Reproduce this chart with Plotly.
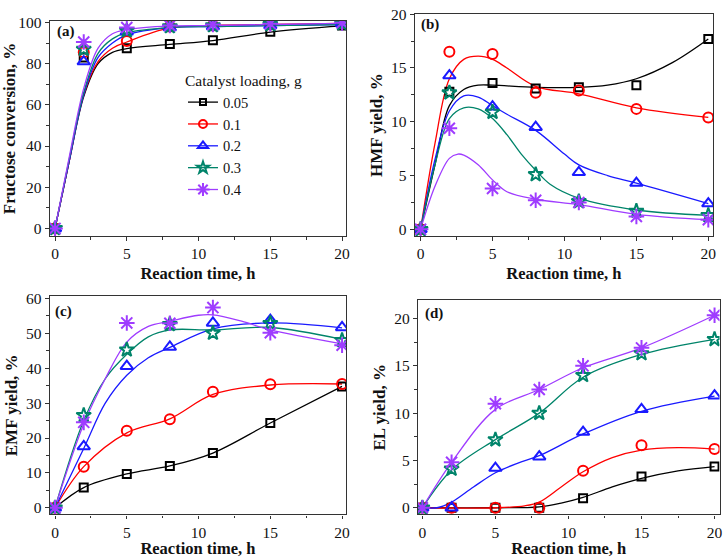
import plotly.graph_objects as go

# ---------------- data ----------------
time_h = [0, 2, 5, 8, 11, 15, 20]
loadings = ["0.05", "0.1", "0.2", "0.3", "0.4"]

# (a) Fructose conversion, %
conv_005 = [0, 83.0, 87.5, 89.5, 91.3, 95.5, 98.5]
conv_01 = [0, 85.5, 91.0, 98.0, 98.5, 99.0, 99.5]
conv_02 = [0, 81.0, 95.5, 97.5, 98.0, 98.5, 99.5]
conv_03 = [0, 87.0, 96.0, 98.0, 98.5, 99.0, 99.5]
conv_04 = [0, 90.5, 97.5, 98.5, 99.0, 99.3, 99.8]

# (b) HMF yield, %
hmf_005 = [0, 12.8, 13.6, 13.1, 13.2, 13.4, 17.7]
hmf_01 = [0, 16.5, 16.3, 12.7, 12.9, 11.2, 10.4]
hmf_02 = [0, 14.3, 11.4, 9.5, 5.3, 4.3, 2.4]
hmf_03 = [0, 12.7, 10.9, 5.1, 2.6, 1.7, 1.3]
hmf_04 = [0, 9.4, 3.8, 2.7, 2.5, 1.2, 0.9]

# (c) EMF yield, %
emf_005 = [0, 5.8, 9.7, 12.0, 15.7, 24.3, 34.8]
emf_01 = [0, 11.8, 22.1, 25.4, 33.3, 35.4, 35.5]
emf_02 = [0, 17.6, 40.6, 46.1, 53.0, 53.8, 51.7]
emf_03 = [0, 26.5, 45.3, 52.6, 50.1, 52.9, 48.0]
emf_04 = [0, 24.5, 53.0, 52.9, 57.4, 50.2, 46.6]

# (d) EL yield, %
el_005 = [0, 0, 0, 0, 1.0, 3.3, 4.35]
el_01 = [0, 0, 0, 0, 3.9, 6.6, 6.2]
el_02 = [0, 0, 4.2, 5.4, 8.0, 10.4, 11.85]
el_03 = [0, 4.1, 7.2, 10.0, 14.0, 16.3, 17.8]
el_04 = [0, 4.8, 11.0, 12.5, 15.0, 16.9, 20.35]

# fitted (smoothed) curves
fit_conv_t = [0, 1, 2, 3, 4, 5, 8, 11, 15, 20]
fit_conv_005 = [0, 33, 64, 80, 85.5, 87.3, 89.3, 91.2, 95.3, 98.3]
fit_conv_01 = [0, 33, 65, 81, 87.5, 90.5, 97.3, 98.5, 99, 99.5]
fit_conv_02 = [0, 33, 65, 83, 90, 94, 97.5, 98, 98.5, 99]
fit_conv_03 = [0, 34, 66, 85, 92, 95, 97.5, 98, 98.5, 99]
fit_conv_04 = [0, 35, 68, 87.5, 94.5, 96.5, 98.3, 98.5, 99, 99.5]

fit_hmf_005_t = [0, 1, 2, 3, 4, 5, 8, 11, 13, 15, 17.5, 20]
fit_hmf_005 = [0, 6, 11.5, 13.0, 13.4, 13.4, 13.2, 13.2, 13.4, 14.0, 15.5, 17.7]
fit_hmf_01_t = [0, 1, 2, 3, 4, 5, 6, 8, 11, 15, 20]
fit_hmf_01 = [0, 8, 14, 15.8, 16.1, 15.8, 15.0, 13.3, 12.6, 11.3, 10.4]
fit_hmf_02_t = [0, 1, 2, 3, 4, 5, 6, 8, 10, 11, 13, 15, 20]
fit_hmf_02 = [0, 6.5, 11, 12.4, 12.3, 11.5, 10.7, 9.2, 7.0, 6.0, 5.0, 4.3, 2.4]
fit_hmf_03_t = [0, 1, 2, 3, 4, 5, 6, 7, 8, 9, 11, 15, 20]
fit_hmf_03 = [0, 6, 10.3, 11.3, 11.2, 10.3, 8.8, 7.0, 5.5, 4.2, 2.9, 1.8, 1.3]
fit_hmf_04_t = [0, 1, 2, 2.6, 3, 4, 5, 6, 8, 11, 15, 20]
fit_hmf_04 = [0, 4, 6.6, 7.0, 6.9, 6.0, 4.6, 3.5, 2.8, 2.3, 1.4, 0.9]

fit_emf_005_t = [0, 2, 5, 8, 11, 15, 20]
fit_emf_005 = [0, 5.8, 9.7, 12.0, 15.7, 24.3, 34.8]
fit_emf_01_t = [0, 2, 5, 8, 11, 15, 20]
fit_emf_01 = [0, 11.8, 21.5, 25.5, 32.5, 35.2, 35.5]
fit_emf_02_t = [0, 2, 3.5, 5, 6.5, 8, 11, 15, 20]
fit_emf_02 = [0, 17, 30, 38, 43, 46, 51.3, 53, 51.6]
fit_emf_03_t = [0, 2, 3.5, 5, 6.5, 8, 11, 15, 20]
fit_emf_03 = [0, 25, 37, 44, 49, 51, 51, 51.7, 48.3]
fit_emf_04_t = [0, 2, 3.5, 5, 6.5, 8, 10, 11, 13, 15, 20]
fit_emf_04 = [0, 24, 37, 47.5, 52, 53.5, 55.2, 55.3, 53.5, 51, 47]

fit_el_005_t = [0, 5, 8, 9.5, 11, 13, 15, 17.5, 20]
fit_el_005 = [0, 0, 0.1, 0.5, 1.1, 2.2, 3.1, 3.9, 4.35]
fit_el_01_t = [0, 5, 7, 8, 9.5, 11, 13, 15, 17.5, 20]
fit_el_01 = [0, 0, 0.2, 0.6, 2.2, 3.8, 5.3, 6.1, 6.35, 6.2]
fit_el_02_t = [0, 1, 2, 3.5, 5, 6.5, 8, 11, 15, 20]
fit_el_02 = [0, 0, 0.6, 2.2, 3.7, 4.7, 5.5, 7.8, 10.2, 11.8]
fit_el_03_t = [0, 2, 5, 8, 11, 15, 20]
fit_el_03 = [0, 4.0, 7.2, 10.0, 13.8, 16.2, 17.8]
fit_el_04_t = [0, 2, 5, 8, 11, 15, 20]
fit_el_04 = [0, 4.8, 10.4, 12.5, 14.8, 16.9, 20.35]

# ---------------- styles ----------------
colors = ["#000000", "#ff0000", "#1a1aff", "#00846a", "#9f3cff"]
symbols = ["square-open", "circle-open", "triangle-up-open", "star-open", "asterisk-open"]
msizes = [8, 10, 11, 11, 13]
FONT = "Liberation Serif"

panels = [
    ("x", "y", [conv_005, conv_01, conv_02, conv_03, conv_04],
     [(fit_conv_t, fit_conv_005), (fit_conv_t, fit_conv_01), (fit_conv_t, fit_conv_02),
      (fit_conv_t, fit_conv_03), (fit_conv_t, fit_conv_04)]),
    ("x2", "y2", [hmf_005, hmf_01, hmf_02, hmf_03, hmf_04],
     [(fit_hmf_005_t, fit_hmf_005), (fit_hmf_01_t, fit_hmf_01), (fit_hmf_02_t, fit_hmf_02),
      (fit_hmf_03_t, fit_hmf_03), (fit_hmf_04_t, fit_hmf_04)]),
    ("x3", "y3", [emf_005, emf_01, emf_02, emf_03, emf_04],
     [(fit_emf_005_t, fit_emf_005), (fit_emf_01_t, fit_emf_01), (fit_emf_02_t, fit_emf_02),
      (fit_emf_03_t, fit_emf_03), (fit_emf_04_t, fit_emf_04)]),
    ("x4", "y4", [el_005, el_01, el_02, el_03, el_04],
     [(fit_el_005_t, fit_el_005), (fit_el_01_t, fit_el_01), (fit_el_02_t, fit_el_02),
      (fit_el_03_t, fit_el_03), (fit_el_04_t, fit_el_04)]),
]

fig = go.Figure()
for xa, ya, series, fits in panels:
    for i in range(5):
        ft, fy = fits[i]
        fig.add_trace(go.Scatter(x=ft, y=fy, xaxis=xa, yaxis=ya, mode="lines",
                                 line=dict(color=colors[i], width=1.3, shape="spline", smoothing=1.0),
                                 showlegend=False, hoverinfo="skip"))
    for i in range(5):
        fig.add_trace(go.Scatter(x=time_h, y=series[i], xaxis=xa, yaxis=ya, mode="markers",
                                 marker=dict(symbol=symbols[i], size=msizes[i], color=colors[i],
                                             line=dict(color=colors[i], width=2)),
                                 showlegend=False))

# legend-only entries
for i in range(5):
    fig.add_trace(go.Scatter(x=[None], y=[None], mode="lines+markers", name=loadings[i],
                             line=dict(color=colors[i], width=1.3),
                             marker=dict(symbol=symbols[i], size=msizes[i] - 2, color=colors[i],
                                         line=dict(color=colors[i], width=2)),
                             showlegend=True))

def xaxis(domain, rng, anchor):
    return dict(domain=domain, range=rng, anchor=anchor, tickvals=[0, 5, 10, 15, 20],
                ticks="outside", ticklen=3.5, tickwidth=1, tickcolor="#333",
                minor=dict(dtick=2.5, tick0=0, ticks="outside", ticklen=2.5, tickcolor="#333"),
                showline=True, linecolor="#333", linewidth=1.3, mirror=True,
                showgrid=False, zeroline=False,
                tickfont=dict(family=FONT, size=15.5, color="#111"),
                title=dict(text="<b>Reaction time, h</b>", standoff=5,
                           font=dict(family=FONT, size=16.5, color="#111")))

def yaxis(domain, rng, anchor, dtick, minor, title):
    return dict(domain=domain, range=rng, anchor=anchor, dtick=dtick, tick0=0,
                ticks="outside", ticklen=4, tickwidth=1, tickcolor="#333",
                minor=dict(dtick=minor, tick0=0, ticks="outside", ticklen=2.5, tickcolor="#333"),
                showline=True, linecolor="#333", linewidth=1.3, mirror=True,
                showgrid=False, zeroline=False,
                tickfont=dict(family=FONT, size=15.5, color="#111"),
                title=dict(text="<b>" + title + "</b>", standoff=4,
                           font=dict(family=FONT, size=17, color="#111")))

W, H = 727, 558
def dx(a, b):
    return [a / W, b / W]
def dy(top, bot):
    return [1 - bot / H, 1 - top / H]

fig.update_layout(
    width=W, height=H, margin=dict(l=0, r=0, t=0, b=0),
    paper_bgcolor="white", plot_bgcolor="white",
    xaxis=xaxis(dx(50, 348), [-0.37, 20.28], "y"),
    yaxis=yaxis(dy(14, 233), [-3.8, 100.8], "x", 20, 10, "Fructose conversion, %"),
    xaxis2=xaxis(dx(417, 717), [-0.41, 20.33], "y2"),
    yaxis2=yaxis(dy(7, 233), [-0.64, 20.03], "x2", 5, 2.5, "HMF yield, %"),
    xaxis3=xaxis(dx(50, 348), [-0.37, 20.28], "y3"),
    yaxis3=yaxis(dy(294, 515.7), [-1.89, 60.65], "x3", 10, 5, "EMF yield, %"),
    xaxis4=xaxis(dx(420.3, 723.5), [-0.3, 20.34], "y4"),
    yaxis4=yaxis(dy(298, 515.7), [-0.7, 21.94], "x4", 5, 2.5, "EL yield, %"),
    legend=dict(x=184 / W, y=1 - 60 / H, xanchor="left", yanchor="top",
                bgcolor="rgba(0,0,0,0)", borderwidth=0, itemwidth=30,
                font=dict(family=FONT, size=14.5, color="#111"),
                title=dict(text="Catalyst loading, g", font=dict(family=FONT, size=15.5, color="#111")),
                tracegroupgap=0),
    showlegend=True,
)

labels = [("x domain", "y domain", "(a)", 0.017, 0.95),
          ("x2 domain", "y2 domain", "(b)", 0.013, 0.954),
          ("x3 domain", "y3 domain", "(c)", 0.01, 0.932),
          ("x4 domain", "y4 domain", "(d)", 0.015, 0.936)]
for xr, yr, t, px, py in labels:
    fig.add_annotation(xref=xr, yref=yr, x=px, y=py, text="<b>" + t + "</b>", showarrow=False,
                       xanchor="left", yanchor="middle",
                       font=dict(family=FONT, size=15, color="#111"))

fig.write_html("out.html", config={"displayModeBar": False},
               post_script="document.body.style.margin='0';document.body.style.overflow='hidden';")
